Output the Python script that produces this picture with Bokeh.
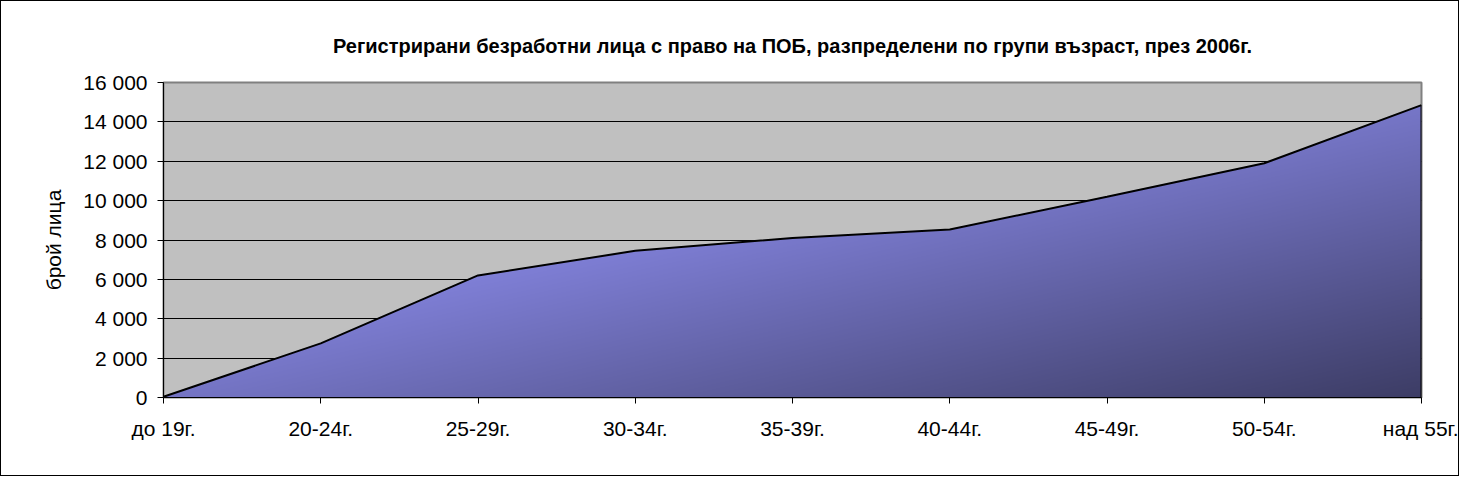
import numpy as np
from bokeh.plotting import figure
from bokeh.models import FixedTicker, Title, Range1d
from bokeh.embed import file_html
from bokeh.resources import INLINE

# ---- data ----
categories = ["до 19г.", "20-24г.", "25-29г.", "30-34г.", "35-39г.",
              "40-44г.", "45-49г.", "50-54г.", "над 55г."]
persons = [40, 2750, 6200, 7450, 8100, 8530, 10200, 11900, 14850]
y_ticks = [0, 2000, 4000, 6000, 8000, 10000, 12000, 14000, 16000]
title_text = "Регистрирани безработни лица с право на ПОБ, разпределени по групи възраст, през 2006г."
y_label = "брой лица"

FONT = "Liberation Sans"
idx = list(range(len(categories)))
x_max = idx[-1]
y_max = y_ticks[-1]

FRAME_W, FRAME_H = 1258, 315
MB_L, MB_T = 162, 81
TOTAL_W, TOTAL_H = 1459, 476

p = figure(width=TOTAL_W, height=TOTAL_H, output_backend="svg", toolbar_location=None,
           x_range=Range1d(0, x_max), y_range=Range1d(0, y_max),
           min_border_left=MB_L, min_border_right=TOTAL_W - MB_L - FRAME_W,
           min_border_top=MB_T, min_border_bottom=TOTAL_H - MB_T - FRAME_H)
p.styles = {"border": "1px solid black"}
p.background_fill_color = "#C0C0C0"
p.border_fill_color = "white"
p.outline_line_color = "#808080"
p.outline_line_width = 2

# gradient filled area as an RGBA image masked by the data line
W, H = FRAME_W, FRAME_H
xs = (np.arange(W) + 0.5) / W * x_max
ys = (np.arange(H) + 0.5) / H * y_max
dy = y_max / H
line_y = np.interp(xs, idx, persons)
cover = np.clip((line_y[None, :] - (ys[:, None] - dy / 2)) / dy, 0, 1)
xf = xs / x_max
yf = 1 - ys / y_max
t = np.clip(0.83 * xf[None, :] + 0.92 * yf[:, None] - 0.76, 0, 1)
R = 128 - 68 * t
B = 216 - 116 * t
img = np.zeros((H, W), dtype=np.uint32)
view = img.view(dtype=np.uint8).reshape((H, W, 4))
view[..., 0] = R.astype(np.uint8)
view[..., 1] = R.astype(np.uint8)
view[..., 2] = B.astype(np.uint8)
view[..., 3] = (cover * 255).astype(np.uint8)
p.image_rgba(image=[img], x=0, y=0, dw=x_max, dh=y_max)

p.line(idx, persons, line_color="black", line_width=2)
p.segment(x0=[idx[-1]], y0=[0], x1=[idx[-1]], y1=[persons[-1]],
          line_color="black", line_width=2)

# grid
p.xgrid.visible = False
p.ygrid.ticker = FixedTicker(ticks=y_ticks)
p.ygrid.grid_line_color = "black"
p.ygrid.grid_line_width = 1

# axes
p.xaxis.ticker = FixedTicker(ticks=idx)
p.xaxis.major_label_overrides = {i: c for i, c in zip(idx, categories)}
p.yaxis.ticker = FixedTicker(ticks=y_ticks)
p.yaxis.major_label_overrides = {v: f"{v:,}".replace(",", " ") for v in y_ticks}
for ax in (p.xaxis, p.yaxis):
    ax.axis_line_color = "black"
    ax.axis_line_width = 1
    ax.major_tick_line_color = "black"
    ax.major_tick_out = 6
    ax.major_tick_in = 0
    ax.minor_tick_line_color = None
    ax.major_label_text_font = FONT
    ax.major_label_text_font_size = "21px"
    ax.major_label_text_color = "black"
p.xaxis.major_label_standoff = 13
p.yaxis.major_label_standoff = 10
p.yaxis.axis_label = y_label
p.yaxis.axis_label_text_font = FONT
p.yaxis.axis_label_text_font_size = "21px"
p.yaxis.axis_label_text_font_style = "normal"
p.yaxis.axis_label_text_color = "black"
p.yaxis.axis_label_standoff = 15

title = Title(text=title_text, align="center", text_font=FONT,
              text_font_size="20px", text_font_style="bold", text_color="black",
              standoff=51)
p.add_layout(title, "above")

open("out.html", "w", encoding="utf-8").write(file_html(p, INLINE))
